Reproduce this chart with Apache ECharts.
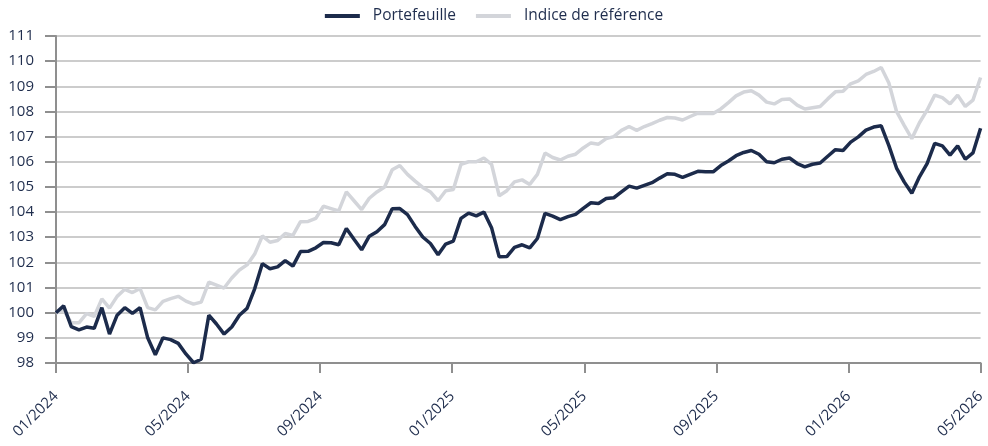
<!DOCTYPE html>
<html><head><meta charset="utf-8">
<script src="https://cdn.jsdelivr.net/npm/echarts@6/dist/echarts.min.js"></script>
<style>html,body{margin:0;padding:0;background:#fff}#c{width:988px;height:446px}</style>
</head><body><div id="c"></div>
<script>
// Weekly observations, 01/2024 -> 05/2026 (evenly spaced across 28 months)
const portefeuille = [
100.0,100.27,99.45,99.32,99.43,99.38,100.2,99.15,99.9,100.2,
99.97,100.2,99.0,98.33,99.0,98.93,98.78,98.36,98.01,98.15,
99.9,99.55,99.15,99.43,99.9,100.17,100.95,101.95,101.75,101.82,
102.07,101.85,102.43,102.44,102.58,102.79,102.78,102.7,103.35,102.92,
102.5,103.04,103.22,103.5,104.13,104.14,103.9,103.43,103.01,102.75,
102.3,102.73,102.85,103.75,103.96,103.85,104.0,103.38,102.22,102.23,
102.6,102.7,102.58,102.95,103.95,103.84,103.7,103.82,103.91,104.15,
104.37,104.34,104.54,104.57,104.8,105.03,104.95,105.06,105.17,105.35,
105.52,105.5,105.38,105.5,105.62,105.6,105.6,105.85,106.03,106.24,
106.37,106.45,106.3,106.0,105.96,106.1,106.15,105.93,105.8,105.9,
105.95,106.22,106.48,106.45,106.78,106.99,107.26,107.38,107.43,106.64,
105.75,105.2,104.75,105.4,105.93,106.73,106.63,106.26,106.63,106.1,
106.35,107.33];
const indice = [
99.98,100.1,99.6,99.6,99.96,99.85,100.55,100.18,100.65,100.93,
100.8,100.96,100.2,100.11,100.45,100.56,100.65,100.46,100.34,100.42,
101.22,101.1,100.98,101.38,101.7,101.9,102.33,103.05,102.8,102.87,
103.15,103.07,103.62,103.63,103.75,104.23,104.14,104.05,104.8,104.45,
104.1,104.55,104.8,105.0,105.68,105.85,105.5,105.23,104.98,104.8,
104.45,104.85,104.9,105.9,106.0,106.0,106.15,105.9,104.65,104.85,
105.2,105.28,105.1,105.5,106.35,106.17,106.07,106.22,106.3,106.55,
106.75,106.7,106.92,107.0,107.25,107.4,107.25,107.4,107.52,107.65,
107.76,107.74,107.66,107.8,107.93,107.92,107.92,108.1,108.35,108.62,
108.77,108.82,108.65,108.37,108.3,108.48,108.5,108.25,108.1,108.15,
108.2,108.5,108.78,108.8,109.1,109.22,109.47,109.59,109.75,109.13,
108.0,107.45,106.92,107.55,108.05,108.65,108.55,108.3,108.65,108.2,
108.45,109.35];
const xTickLabels = ["01/2024","05/2024","09/2024","01/2025","05/2025","09/2025","01/2026","05/2026"];
const yTicks = {min: 98, max: 111, interval: 1};
const seriesNames = ["Portefeuille", "Indice de référence"];

const totalMonths = 4 * (xTickLabels.length - 1);
function toPairs(arr){ return arr.map((v,i)=>[i*totalMonths/(arr.length-1), v]); }

const navy = '#1c2b4b', gray = '#d3d5da', txt = '#1f2d4d';
const font = '"Open Sans", sans-serif';
const chart = echarts.init(document.getElementById('c'), null, {renderer:'canvas'});
chart.setOption({
  animation: false,
  backgroundColor: '#fff',
  legend: {
    top: 3, left: 'center',
    data: seriesNames,
    itemWidth: 35, itemHeight: 4, itemGap: 20,
    icon: 'rect',
    textStyle: {color: txt, fontSize: 15.5, fontFamily: font, padding: [0,0,0,8]}
  },
  grid: {left: 56, right: 3, top: 36, bottom: 83, containLabel: false},
  xAxis: {
    type: 'value', min: 0, max: totalMonths, interval: 4,
    axisLine: {show: true, lineStyle: {color: '#8f8f8f', width: 2}},
    axisTick: {show: true, length: 10, lineStyle: {color: '#8f8f8f', width: 2}},
    splitLine: {show: false},
    axisLabel: {
      rotate: 45, margin: 31, color: txt, fontSize: 15, fontFamily: font,
      showMaxLabel: true, showMinLabel: true,
      formatter: v => xTickLabels[Math.round(v/4)] || ''
    }
  },
  yAxis: {
    type: 'value', min: yTicks.min, max: yTicks.max, interval: yTicks.interval,
    axisLine: {show: true, lineStyle: {color: '#8f8f8f', width: 2}},
    axisTick: {show: true, length: 11, lineStyle: {color: '#8f8f8f', width: 2}},
    splitLine: {show: true, lineStyle: {color: '#cccccc', width: 2}},
    axisLabel: {color: txt, fontSize: 15, fontFamily: font, margin: 22}
  },
  series: [
    {name: seriesNames[1], type: 'line', data: toPairs(indice), showSymbol: false,
     lineStyle: {color: gray, width: 3.5}, itemStyle: {color: gray}, z: 2},
    {name: seriesNames[0], type: 'line', data: toPairs(portefeuille), showSymbol: false,
     lineStyle: {color: navy, width: 3.5}, itemStyle: {color: navy}, z: 3}
  ]
});
</script></body></html>
